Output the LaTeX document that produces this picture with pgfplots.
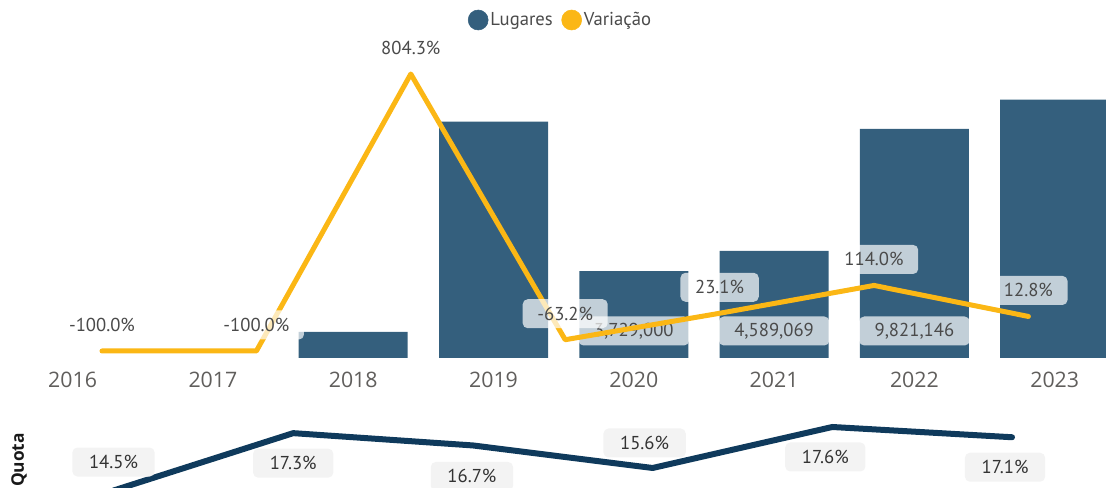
\documentclass[border=0pt]{standalone}
\usepackage{pgfplots}
\pgfplotsset{compat=1.18}
\usepackage{fontspec}
\setmainfont{Open Sans}
\newfontfamily\din{PT Sans}
\definecolor{barblue}{HTML}{345F7D}
\definecolor{varyellow}{HTML}{FBB715}
\definecolor{quotanavy}{HTML}{0F3A5C}
\definecolor{tickgray}{HTML}{605E5C}
\definecolor{labelgray}{HTML}{4A4A4A}
\definecolor{quotabox}{HTML}{F3F3F3}
\begin{document}
\begin{tikzpicture}
\path[use as bounding box] (0,0) rectangle (829.5pt,366pt);
\clip (0,0) rectangle (829.5pt,366pt);

% ---------- bars (Lugares) ----------
\begin{axis}[
  at={(0pt,97.5pt)}, anchor=south west,
  scale only axis, width=829.5pt, height=268.5pt,
  xmin=-0.5175, xmax=7.3656, ymin=0, ymax=15353546,
  axis line style={draw=none}, major tick style={draw=none},
  ytick=\empty, xtick={0,...,7},
  xticklabels={2016,2017,2018,2019,2020,2021,2022,2023},
  xticklabel style={font=\fontsize{16}{16}\selectfont, text=tickgray, anchor=center, yshift=-16.5pt},
  clip=false,
]
\addplot[ybar, bar width=0.777, fill=barblue, draw=none] coordinates {
  (2,1120552) (3,10133152) (4,3729000) (5,4589069) (6,9821146) (7,11078253)};
\addplot[draw=none, mark=none, nodes near coords, point meta=explicit symbolic,
  nodes near coords style={anchor=center, yshift=20.25pt,
    font=\din\fontsize{14}{14}\selectfont, text=labelgray,
    fill=white, fill opacity=0.7, text opacity=1, rounded corners=3.75pt,
    inner xsep=11.6pt, inner ysep=0pt, minimum height=21.75pt}]
  table[meta=lab] {
x y lab
4 0 3,729,000
5 0 4,589,069
6 0 9,821,146
};
\end{axis}

% ---------- line (Variação) ----------
\begin{axis}[
  at={(0pt,97.5pt)}, anchor=south west,
  scale only axis, width=829.5pt, height=268.5pt,
  xmin=-0.6606, xmax=6.5026, ymin=-122.85, ymax=1045.9,
  hide axis, clip=false,
  legend columns=2,
  legend style={at={(0.5068,0.9441)}, anchor=center, draw=none, fill=none,
    font=\din\fontsize{14}{14}\selectfont, text=labelgray,
    inner sep=0pt, nodes={inner sep=1.5pt},
    /tikz/every even column/.append style={column sep=5pt}},
  legend cell align=left,
]
\addlegendimage{legend image code/.code={\fill[barblue] (7.5pt,0pt) circle (7.5pt);}}
\addlegendentry{Lugares}
\addlegendimage{legend image code/.code={\fill[varyellow] (7.5pt,0pt) circle (7.5pt);}}
\addlegendentry{Variação}
\addplot[varyellow, line width=3.75pt, line join=round, line cap=round, mark=none,
  forget plot,
  nodes near coords={\pgfplotspointmeta\%}, point meta=explicit symbolic,
  nodes near coords style={anchor=center, yshift=19.5pt,
    font=\din\fontsize{14}{14}\selectfont, text=labelgray,
    fill=white, fill opacity=0.7, text opacity=1, rounded corners=3.75pt,
    inner xsep=11pt, inner ysep=0pt, minimum height=21.75pt}]
  table[meta=lab] {
x y lab
0 -100 -100.0
1 -100 -100.0
2 804.3 804.3
3 -63.2 -63.2
4 23.1 23.1
5 114.0 114.0
6 12.8 12.8
};
\end{axis}

% ---------- Quota ----------
\begin{axis}[
  at={(0pt,0pt)}, anchor=south west,
  scale only axis, width=829.5pt, height=66pt,
  xmin=-0.6316, xmax=5.523, ymin=14.624, ymax=18.917,
  hide axis, clip=false,
]
\addplot[quotanavy, line width=4.5pt, line join=round, line cap=round, mark=none,
  visualization depends on={\thisrow{dx}\as\dx},
  visualization depends on={\thisrow{dy}\as\dy},
  nodes near coords={\pgfplotspointmeta\%}, point meta=explicit symbolic,
  nodes near coords style={anchor=center, xshift=\dx pt, yshift=\dy pt,
    font=\din\fontsize{14}{14}\selectfont, text=black!80,
    fill=quotabox, rounded corners=3.75pt,
    inner xsep=12.5pt, inner ysep=0pt, minimum height=21.75pt}]
  table[meta=lab] {
x y lab dx dy
0 14.5 14.5 0 21.4
1 17.3 17.3 0 -22.5
2 16.7 16.7 -0.75 -23.25
3 15.6 15.6 -6 18.75
4 17.6 17.6 -5.25 -22.5
5 17.1 17.1 -5.25 -22.5
};
\end{axis}

\node[rotate=90, font=\bfseries\fontsize{13}{13}\selectfont, text=black!90] at (14.25pt,21pt) {Quota};
\end{tikzpicture}
\end{document}
